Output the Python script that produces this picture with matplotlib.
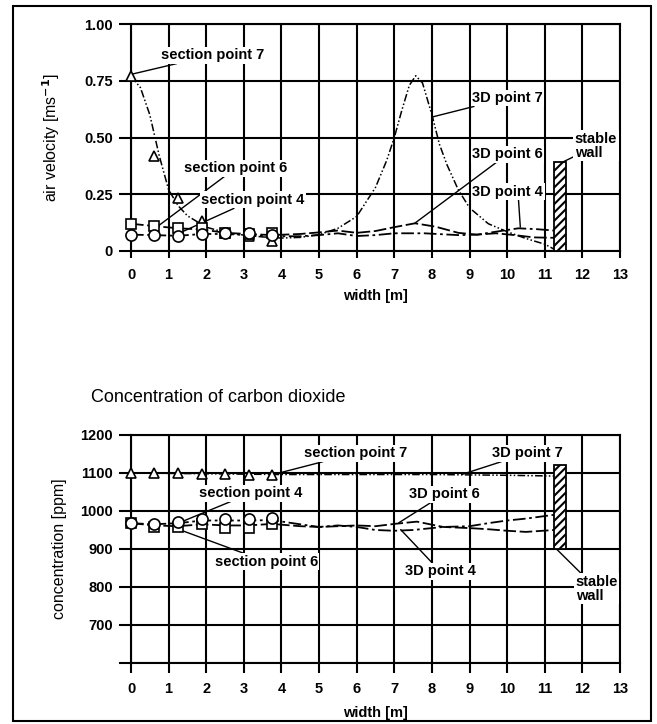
import matplotlib
matplotlib.use("Agg")
import matplotlib.pyplot as plt
from matplotlib.patches import Rectangle

plt.rcParams['font.family'] = ['Liberation Sans', 'DejaVu Sans']
plt.rcParams['hatch.linewidth'] = 1.5

# ---------------- data ----------------
x_ticks = list(range(0, 14))
section_x = [0, 0.6, 1.25, 1.88, 2.5, 3.13, 3.75]

# air velocity [m/s]
vel_sec7 = [0.77, 0.42, 0.235, 0.13, 0.08, 0.066, 0.045]
vel_sec6 = [0.12, 0.11, 0.10, 0.10, 0.08, 0.074, 0.08]
vel_sec4 = [0.072, 0.07, 0.065, 0.075, 0.08, 0.08, 0.07]

vel3d7_x = [0, 0.25, 0.5, 0.75, 1.0, 1.25, 1.5, 2.0, 2.5, 3.0, 3.5, 4.0, 4.5, 5.0, 5.5, 6.0,
            6.5, 6.8, 7.0, 7.2, 7.4, 7.57, 7.75, 8.0, 8.2, 8.4, 8.7, 9.0, 9.5, 10.0, 10.5, 11.0, 11.25]
vel3d7_y = [0.77, 0.72, 0.60, 0.42, 0.27, 0.2, 0.155, 0.105, 0.082, 0.07, 0.062, 0.057, 0.06, 0.072, 0.1, 0.152,
            0.28, 0.4, 0.5, 0.62, 0.73, 0.772, 0.74, 0.6, 0.47, 0.38, 0.27, 0.19, 0.12, 0.085, 0.055, 0.03, 0.008]
vel3d6_x = [0, 0.6, 1.25, 1.9, 2.5, 3.1, 3.75, 4.5, 5.0, 5.5, 6.0, 6.5, 7.0, 7.55, 8.1, 8.7, 9.2, 9.7, 10.2, 10.7, 11.25]
vel3d6_y = [0.12, 0.11, 0.10, 0.095, 0.08, 0.075, 0.07, 0.075, 0.082, 0.09, 0.08, 0.088, 0.105, 0.122, 0.107, 0.08, 0.072, 0.078, 0.07, 0.06, 0.058]
vel3d4_x = [0, 0.6, 1.25, 1.9, 2.5, 3.1, 3.75, 4.5, 5.0, 5.5, 6.0, 6.5, 7.0, 7.8, 8.7, 9.2, 9.7, 10.3, 10.8, 11.25]
vel3d4_y = [0.072, 0.07, 0.067, 0.075, 0.075, 0.07, 0.065, 0.065, 0.07, 0.078, 0.066, 0.07, 0.078, 0.078, 0.07, 0.072, 0.085, 0.1, 0.096, 0.09]

# CO2 concentration [ppm]
co2_sec7 = [1100, 1100, 1100, 1098, 1097, 1095, 1095]
co2_sec6 = [969, 958, 958, 965, 956, 956, 965]
co2_sec4 = [969, 966, 972, 978, 978, 978, 982]

co2_3d7_x = [0, 2, 4, 6, 8, 10, 11.25]
co2_3d7_y = [1100, 1098, 1096, 1096, 1096, 1094, 1092]
co2_3d6_x = [0, 0.6, 1.25, 1.9, 2.5, 3.1, 3.75, 4.5, 5.0, 5.5, 6.0, 6.5, 7.0, 7.6, 8.3, 9.0, 9.5, 10.0, 10.5, 11.25]
co2_3d6_y = [968, 962, 960, 965, 962, 962, 966, 960, 958, 960, 962, 960, 966, 972, 958, 955, 952, 948, 945, 950]
co2_3d4_x = [0, 0.6, 1.25, 1.9, 2.5, 3.1, 3.75, 4.5, 5.0, 5.5, 6.0, 6.5, 7.0, 7.5, 8.3, 9.0, 9.5, 10.0, 10.5, 11.25]
co2_3d4_y = [968, 965, 968, 975, 975, 975, 976, 965, 958, 962, 958, 950, 948, 950, 958, 960, 968, 975, 980, 990]

vel_yticks = [0, 0.25, 0.5, 0.75, 1.0]
vel_yticklabels = ['0', '0.25', '0.50', '0.75', '1.00']
co2_yticks = [600, 700, 800, 900, 1000, 1100, 1200]
co2_yticklabels = ['', '700', '800', '900', '1000', '1100', '1200']

# ---------------- figure ----------------
W, H = 657, 724
fig = plt.figure(figsize=(W / 100, H / 100), dpi=100)

# outer frame
fig.patches.append(Rectangle((13 / W, 1 - 721 / H), (651 - 13) / W, (721 - 6) / H,
                             transform=fig.transFigure, fill=False, edgecolor='black', lw=1.5))

ax1 = fig.add_axes([131 / W, 1 - 251 / H, 489 / W, 227 / H])
ax2 = fig.add_axes([131 / W, 1 - 663 / H, 489 / W, 228 / H])

ls7 = (0, (5, 1.5, 1, 1.5, 1, 1.5))
ls6 = (0, (7, 2))
ls4 = (0, (7, 2, 1.5, 2))
mk = dict(markerfacecolor='white', markeredgecolor='black', markeredgewidth=1.2,
          linestyle='none', zorder=5, clip_on=False)
tfont = dict(fontsize=10.5, fontweight='bold')
line_kw = dict(arrowprops=dict(arrowstyle='-', color='black', lw=1.0, shrinkA=0, shrinkB=0))
bb = dict(facecolor='white', edgecolor='none', pad=1.0)


def style_axes(ax, yticks, yticklabels, ylim, xtick_len):
    ax.set_xlim(0, 13)
    ax.set_ylim(*ylim)
    ax.set_xticks(x_ticks)
    ax.set_xticklabels([str(v) for v in x_ticks], fontsize=10.5, fontweight='bold')
    ax.set_yticks(yticks)
    ax.set_yticklabels(yticklabels, fontsize=10.5, fontweight='bold')
    ax.grid(True, color='black', lw=1.5)
    ax.set_axisbelow(True)
    for s in ax.spines.values():
        s.set_linewidth(1.5)
    ax.tick_params(axis='y', length=9, width=1.5, pad=4)
    ax.tick_params(axis='x', length=xtick_len, width=1.5, pad=7)


# ---- top: air velocity ----
style_axes(ax1, vel_yticks, vel_yticklabels, (0, 1.0), 5)
ax1.plot(vel3d7_x, vel3d7_y, color='black', lw=1.1, linestyle=ls7, zorder=3)
ax1.plot(vel3d6_x, vel3d6_y, color='black', lw=1.3, linestyle=ls6, zorder=3)
ax1.plot(vel3d4_x, vel3d4_y, color='black', lw=1.3, linestyle=ls4, zorder=3)
ax1.plot(section_x, vel_sec7, marker='^', markersize=7.5, **mk)
ax1.plot(section_x, vel_sec6, marker='s', markersize=7.5, **mk)
ax1.plot(section_x, vel_sec4, marker='o', markersize=8, **mk)
ax1.add_patch(Rectangle((11.25, 0), 0.32, 0.39, facecolor='white', edgecolor='black',
                        hatch='////', lw=1.3, zorder=4))

ax1.annotate('section point 7', xy=(0.05, 0.78), xytext=(0.8, 0.863), va='center', ha='left',
             bbox=bb, **tfont, **line_kw)
ax1.annotate('3D point 7', xy=(8.0, 0.59), xytext=(9.07, 0.674), va='center', ha='left',
             bbox=bb, **tfont, **line_kw)
ax1.annotate('3D point 6', xy=(7.55, 0.123), xytext=(9.07, 0.427), va='center', ha='left',
             bbox=bb, **tfont, **line_kw)
ax1.annotate('', xy=(10.35, 0.105), xytext=(10.3, 0.23), **line_kw)
ax1.text(9.07, 0.261, '3D point 4', va='center', ha='left', bbox=bb, **tfont)
ax1.annotate('section point 6', xy=(0.72, 0.11), xytext=(1.41, 0.365), va='center', ha='left',
             bbox=bb, **tfont, **line_kw)
ax1.annotate('section point 4', xy=(1.3, 0.08), xytext=(1.86, 0.225), va='center', ha='left',
             bbox=bb, **tfont, **line_kw)
ax1.annotate('stable\nwall', xy=(11.33, 0.38), xytext=(11.8, 0.463), va='center', ha='left',
             bbox=bb, linespacing=1.0, **tfont, **line_kw)

ax1.set_xlabel('width [m]', fontsize=10.5, fontweight='bold')
ax1.xaxis.set_label_coords(0.5, -0.167)
ax1.set_ylabel('air velocity [ms$^{\\mathbf{-1}}$]', fontsize=11.5)
ax1.yaxis.set_label_coords(-0.141, 0.5)

# ---- bottom: CO2 ----
style_axes(ax2, co2_yticks, co2_yticklabels, (600, 1200), 7)
ax2.plot(co2_3d7_x, co2_3d7_y, color='black', lw=1.1, linestyle=ls7, zorder=3)
ax2.plot(co2_3d6_x, co2_3d6_y, color='black', lw=1.3, linestyle=ls6, zorder=3)
ax2.plot(co2_3d4_x, co2_3d4_y, color='black', lw=1.3, linestyle=ls4, zorder=3)
ax2.plot(section_x, co2_sec7, marker='^', markersize=7.5, **mk)
ax2.plot(section_x, co2_sec6, marker='s', markersize=7.5, **mk)
ax2.plot(section_x, co2_sec4, marker='o', markersize=8, **mk)
ax2.add_patch(Rectangle((11.25, 900), 0.32, 222, facecolor='white', edgecolor='black',
                        hatch='////', lw=1.3, zorder=4))

ax2.annotate('section point 7', xy=(3.78, 1096), xytext=(4.6, 1152), va='center', ha='left',
             bbox=bb, **tfont, **line_kw)
ax2.annotate('3D point 7', xy=(8.79, 1096), xytext=(9.6, 1152), va='center', ha='left',
             bbox=bb, **tfont, **line_kw)
ax2.annotate('section point 4', xy=(1.28, 969), xytext=(1.82, 1047), va='center', ha='left',
             bbox=bb, **tfont, **line_kw)
ax2.annotate('section point 6', xy=(1.15, 956), xytext=(2.22, 867), va='center', ha='left',
             bbox=bb, **tfont, **line_kw)
ax2.annotate('3D point 6', xy=(7.12, 969), xytext=(7.38, 1044), va='center', ha='left',
             bbox=bb, **tfont, **line_kw)
ax2.annotate('3D point 4', xy=(7.17, 951), xytext=(7.28, 841), va='center', ha='left',
             bbox=bb, **tfont, **line_kw)
ax2.annotate('stable\nwall', xy=(11.28, 903), xytext=(11.82, 795), va='center', ha='left',
             bbox=bb, linespacing=1.0, **tfont, **line_kw)

ax2.set_xlabel('width [m]', fontsize=10.5, fontweight='bold')
ax2.xaxis.set_label_coords(0.5, -0.189)
ax2.set_ylabel('concentration [ppm]', fontsize=11.5)
ax2.yaxis.set_label_coords(-0.131, 0.5)

fig.text(91 / W, 1 - 397 / H, 'Concentration of carbon dioxide', fontsize=13, va='center', ha='left')

fig.savefig('out.png', dpi=100)
